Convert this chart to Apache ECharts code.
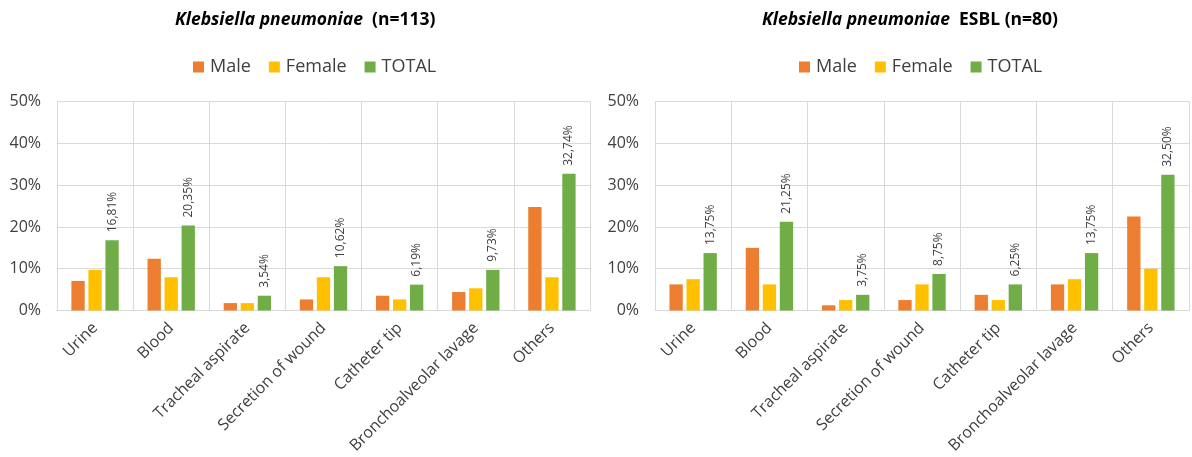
<!DOCTYPE html>
<html>
<head>
<meta charset="utf-8">
<title>Klebsiella pneumoniae</title>
<script src="https://cdn.jsdelivr.net/npm/echarts@6/dist/echarts.min.js"></script>
<style>
  html, body { margin: 0; padding: 0; background: #ffffff; }
  #chart { width: 1192px; height: 457px; }
</style>
</head>
<body>
<div id="chart"></div>
<script>
// Sample types (shared by both panels)
const categories = ['Urine', 'Blood', 'Tracheal aspirate', 'Secretion of wound', 'Catheter tip', 'Bronchoalveolar lavage', 'Others'];
const seriesNames = ['Male', 'Female', 'TOTAL'];

// Klebsiella pneumoniae (n=113), % of isolates
const kpMale   = [7.08, 12.39, 1.77, 2.65, 3.54, 4.42, 24.78];
const kpFemale = [9.73, 7.96, 1.77, 7.96, 2.65, 5.31, 7.96];
const kpTotal  = [16.81, 20.35, 3.54, 10.62, 6.19, 9.73, 32.74];

// Klebsiella pneumoniae ESBL (n=80), % of isolates
const esblMale   = [6.25, 15.00, 1.25, 2.50, 3.75, 6.25, 22.50];
const esblFemale = [7.50, 6.25, 2.50, 6.25, 2.50, 7.50, 10.00];
const esblTotal  = [13.75, 21.25, 3.75, 8.75, 6.25, 13.75, 32.50];

// Value axis ticks
const yTicks = [0, 10, 20, 30, 40, 50];

const colors = ['#ED7D31', '#FFC000', '#70AD47'];
const FONT = '"Open Sans", "Noto Sans", sans-serif';
const gridColor = '#d9d9d9';
const textColor = '#404040';

const chart = echarts.init(document.getElementById('chart'));

function pct(v) {
  return v.toFixed(2).replace('.', ',') + '%';
}

function xAxisFor(gridIndex) {
  return {
    type: 'category',
    gridIndex: gridIndex,
    data: categories,
    boundaryGap: true,
    axisTick: { show: false },
    axisLine: { lineStyle: { color: gridColor, width: 1 } },
    splitLine: { show: true, lineStyle: { color: gridColor, width: 1 } },
    axisLabel: {
      interval: 0,
      rotate: 45,
      margin: 15,
      color: textColor,
      fontFamily: FONT,
      fontSize: 16
    }
  };
}

function yAxisFor(gridIndex) {
  return {
    type: 'value',
    gridIndex: gridIndex,
    min: yTicks[0],
    max: yTicks[yTicks.length - 1],
    interval: yTicks[1] - yTicks[0],
    axisLine: { show: false },
    axisTick: { show: false },
    splitLine: { lineStyle: { color: gridColor, width: 1 } },
    axisLabel: {
      margin: 16,
      color: textColor,
      fontFamily: FONT,
      fontSize: 16,
      formatter: '{value}%'
    }
  };
}

function barSeries(name, data, idx, gridIndex, withLabel) {
  const s = {
    name: name,
    type: 'bar',
    xAxisIndex: gridIndex,
    yAxisIndex: gridIndex,
    data: data,
    barWidth: 13.3,
    barGap: '28%',
    itemStyle: { color: colors[idx] },
    emphasis: { disabled: true }
  };
  if (withLabel) {
    s.label = {
      show: true,
      position: 'top',
      rotate: 90,
      align: 'left',
      verticalAlign: 'middle',
      distance: 8,
      color: '#404040',
      fontFamily: FONT,
      fontSize: 12,
      formatter: function (p) { return pct(p.value); }
    };
  }
  return s;
}

function legendAt(left) {
  return {
    left: left,
    top: 58,
    padding: 0,
    itemWidth: 11,
    itemHeight: 11,
    itemGap: 18,
    icon: 'rect',
    data: seriesNames,
    selectedMode: false,
    textStyle: { color: textColor, fontFamily: FONT, fontSize: 18, padding: [0, 0, 0, 1] }
  };
}

function titleAt(left, text) {
  return {
    left: left,
    top: 11,
    padding: 0,
    text: text,
    textStyle: {
      fontFamily: FONT,
      rich: {
        i: { fontFamily: FONT, fontSize: 17.5, fontWeight: 'bold', fontStyle: 'italic', color: '#000000' },
        b: { fontFamily: FONT, fontSize: 17.5, fontWeight: 'bold', color: '#000000' }
      }
    }
  };
}

const option = {
  animation: false,
  backgroundColor: '#ffffff',
  title: [
    titleAt(175, '{i|Klebsiella pneumoniae}{b|  (n=113)}'),
    titleAt(762, '{i|Klebsiella pneumoniae}{b|  ESBL (n=80)}')
  ],
  legend: [legendAt(193), legendAt(799)],
  grid: [
    { left: 57, top: 101.7, width: 533, height: 208.8, containLabel: false },
    { left: 655, top: 101.7, width: 534, height: 208.8, containLabel: false }
  ],
  xAxis: [xAxisFor(0), xAxisFor(1)],
  yAxis: [yAxisFor(0), yAxisFor(1)],
  series: [
    barSeries('Male', kpMale, 0, 0, false),
    barSeries('Female', kpFemale, 1, 0, false),
    barSeries('TOTAL', kpTotal, 2, 0, true),
    barSeries('Male', esblMale, 0, 1, false),
    barSeries('Female', esblFemale, 1, 1, false),
    barSeries('TOTAL', esblTotal, 2, 1, true)
  ]
};

chart.setOption(option);
</script>
</body>
</html>
